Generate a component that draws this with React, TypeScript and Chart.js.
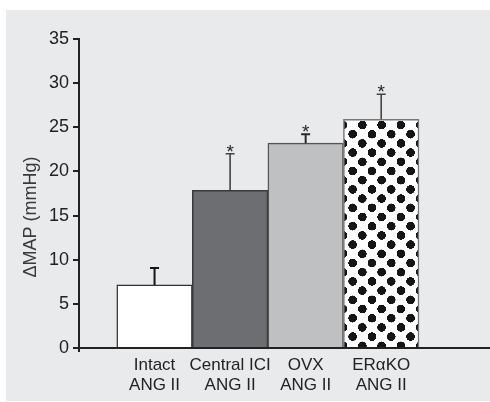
import React, { useEffect, useRef } from "react";
import { Chart, registerables } from "chart.js";

Chart.register(...registerables);

const categories: string[][] = [
  ["Intact", "ANG II"],
  ["Central ICI", "ANG II"],
  ["OVX", "ANG II"],
  ["ERαKO", "ANG II"],
];
const meanValues = [7.15, 17.85, 23.2, 25.9];
const errorValues = [1.9, 4.15, 1.0, 2.85];
const significance = ["", "*", "*", "*"];
const yMin = 0;
const yMax = 35;
const yStep = 5;
const yTitle = "ΔMAP (mmHg)";

const FONT = "'Liberation Sans', Arial, Helvetica, sans-serif";

function makeDotPattern(ctx: CanvasRenderingContext2D): CanvasPattern | string {
  const s = 10;
  const tw = 19.3;
  const th = 18.4;
  const c = document.createElement("canvas");
  c.width = Math.round(tw * s);
  c.height = Math.round(th * s);
  const g = c.getContext("2d");
  if (!g) return "#fff";
  g.fillStyle = "#ffffff";
  g.fillRect(0, 0, c.width, c.height);
  g.fillStyle = "#151515";
  const r = 4.3 * s;
  const pts = [
    [tw / 4, th / 4],
    [(3 * tw) / 4, (3 * th) / 4],
  ];
  for (const [px, py] of pts) {
    for (let dx = -1; dx <= 1; dx++) {
      for (let dy = -1; dy <= 1; dy++) {
        g.beginPath();
        g.arc((px + dx * tw) * s, (py + dy * th) * s, r, 0, Math.PI * 2);
        g.fill();
      }
    }
  }
  const p = ctx.createPattern(c, "repeat");
  if (!p) return "#fff";
  const tx = 356.3 - tw / 4;
  const ty = 115 - th / 4;
  p.setTransform(new DOMMatrix([1 / s, 0, 0, 1 / s, tx, ty]));
  return p;
}

const errorBarPlugin = {
  id: "errorBars",
  afterDatasetsDraw(chart: any) {
    const { ctx, scales } = chart;
    const xs = scales.x;
    const ys = scales.y;
    const colors = ["#151515", "#444444", "#2a2a2a", "#444444"];
    const widths = [2, 1.6, 2, 1.6];
    ctx.save();
    meanValues.forEach((v, i) => {
      const x = xs.getPixelForValue(i);
      const yb = ys.getPixelForValue(v);
      const yt = ys.getPixelForValue(v + errorValues[i]);
      ctx.strokeStyle = colors[i];
      ctx.lineWidth = widths[i];
      ctx.beginPath();
      ctx.moveTo(x, yb);
      ctx.lineTo(x, yt);
      ctx.moveTo(x - 4.5, yt);
      ctx.lineTo(x + 4.5, yt);
      ctx.stroke();
      if (significance[i]) {
        ctx.fillStyle = "#222";
        ctx.font = `19px ${FONT}`;
        ctx.textAlign = "center";
        ctx.textBaseline = "alphabetic";
        ctx.fillText(significance[i], x, yt + 4);
      }
    });
    ctx.translate(25, 207);
    ctx.rotate(-Math.PI / 2);
    ctx.fillStyle = "#3a3a3a";
    ctx.font = `18px ${FONT}`;
    ctx.textAlign = "center";
    ctx.textBaseline = "middle";
    ctx.fillText(yTitle, 0, 0);
    ctx.restore();
  },
};

export default function App() {
  const ref = useRef<HTMLCanvasElement>(null);
  useEffect(() => {
    const canvas = ref.current;
    if (!canvas) return;
    const ctx = canvas.getContext("2d");
    if (!ctx) return;
    const pattern = makeDotPattern(ctx);
    const chart = new Chart(ctx, {
      type: "bar",
      data: {
        datasets: [
          {
            data: meanValues.map((v, i) => ({ x: i, y: v })),
            backgroundColor: ["#ffffff", "#6d6e71", "#bfc0c2", pattern as any],
            borderColor: ["#333333", "#3a3a3a", "#555555", "#777777"],
            borderWidth: 1.5,
            barPercentage: 1,
            categoryPercentage: 1,
          },
        ],
      },
      options: {
        animation: false,
        responsive: false,
        devicePixelRatio: 1,
        layout: { padding: { top: 29, right: 0, left: 0, bottom: 0 } },
        plugins: {
          legend: { display: false },
          tooltip: { enabled: false },
        },
        scales: {
          x: {
            type: "linear",
            offset: false,
            min: -1,
            max: 4.44,
            afterBuildTicks: (s: any) => {
              s.ticks = [-1, 0, 1, 2, 3].map((v) => ({ value: v }));
            },
            afterFit: (s: any) => {
              s.height = 53;
            },
            ticks: {
              autoSkip: false,
              maxRotation: 0,
              minRotation: 0,
              padding: 3,
              color: "#222",
              font: { family: FONT, size: 17, lineHeight: 1.2 },
              callback: (val: any) => (val >= 0 && val < categories.length ? categories[val] : ""),
            },
            grid: {
              offset: false,
              drawOnChartArea: false,
              tickLength: 4,
              lineWidth: 2,
              color: (c: any) => (c.tick && c.tick.value === -1 ? "#222" : "rgba(0,0,0,0)"),
            },
            border: { color: "#222", width: 2 },
          },
          y: {
            min: yMin,
            max: yMax,
            afterFit: (s: any) => {
              s.width = 73;
            },
            ticks: {
              stepSize: yStep,
              padding: 4,
              color: "#222",
              font: { family: FONT, size: 18 },
            },
            grid: {
              drawOnChartArea: false,
              tickLength: 6,
              lineWidth: 2,
              color: "#222",
            },
            border: { color: "#222", width: 2 },
          },
        },
      },
      plugins: [errorBarPlugin],
    } as any);
    return () => chart.destroy();
  }, []);
  return (
    <div style={{ position: "fixed", left: 0, top: 0, width: 490, height: 402, background: "#ffffff" }}>
      <div style={{ position: "absolute", left: 6, top: 10, width: 484, height: 391, background: "#e9eaec" }}>
        <canvas ref={ref} width={484} height={391} style={{ display: "block", width: 484, height: 391 }} />
      </div>
    </div>
  );
}
